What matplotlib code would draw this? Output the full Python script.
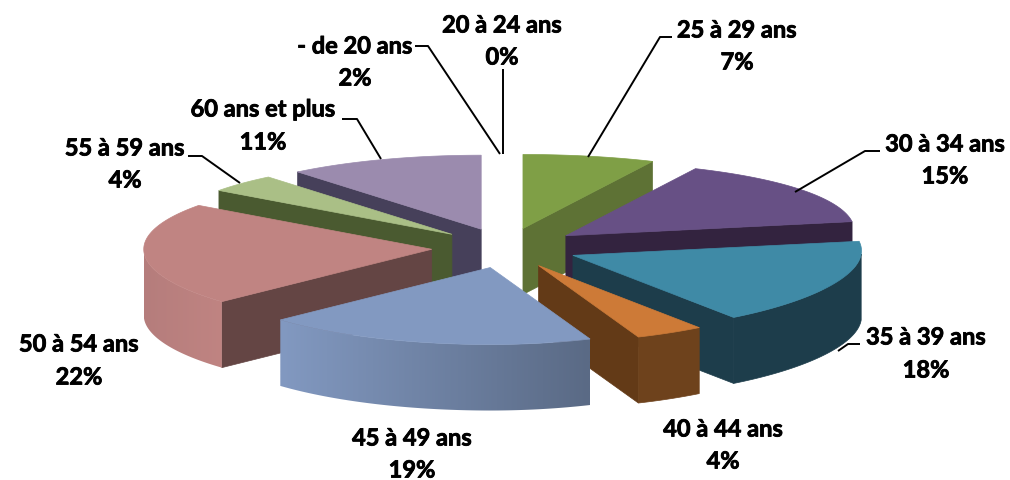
import numpy as np
import matplotlib
matplotlib.use('Agg')
import matplotlib.pyplot as plt
import matplotlib.patheffects as pe
from matplotlib.patches import Polygon
from matplotlib.colors import LinearSegmentedColormap

# tranches d'age, dans le sens horaire a partir du haut
ages = ['25 à 29 ans', '30 à 34 ans', '35 à 39 ans', '40 à 44 ans',
        '45 à 49 ans', '50 à 54 ans', '55 à 59 ans', '60 ans et plus']
values = [7, 15, 18, 4, 19, 22, 4, 11]

# these two show up only as labels, no visible slice
empty_ages = ['- de 20 ans', '20 à 24 ans']
empty_values = [2, 0]

top_colors = ['#7f9f46', '#675085', '#3f8aa6', '#cd7a37',
              '#8299c1', '#c08482', '#aabf86', '#9b8bae']
wall_colors = ['#5e7235', '#33233f', '#1d3d4b', '#633a17',
               '#5a6a85', '#644544', '#4a5a30', '#46405a']
arc_left = ['#5e7235', '#33233f', '#1d3d4b', '#6e421c',
            '#8299c1', '#b57d7c', '#4a5a30', '#46405a']
arc_right = ['#5e7235', '#33233f', '#1d3d4b', '#6e421c',
             '#5a6a85', '#c08482', '#4a5a30', '#46405a']

# pie geometry, in pixels
CX, CY = 506.6, 249
RX = 288
EX, EY = 75, 20
DEPTH = 66

# label: centre x, y of first line, y of second line
label_pos = {
    '20 à 24 ans': (502, 26, 58),
    '- de 20 ans': (355, 47, 79),
    '25 à 29 ans': (737, 31, 63),
    '30 à 34 ans': (945, 145, 177),
    '35 à 39 ans': (926, 338, 371),
    '40 à 44 ans': (723, 430, 462),
    '45 à 49 ans': (412, 439, 471),
    '50 à 54 ans': (79, 345, 378),
    '55 à 59 ans': (125, 149, 181),
    '60 ans et plus': (263, 110, 143),
}
leaders = [
    [(503, 70), (503, 155)],
    [(415, 47), (428, 47), (500, 155)],
    [(672, 38), (660, 38), (588, 158)],
    [(880, 152), (865, 152), (795, 193)],
    [(860, 345), (848, 345), (838, 352)],
    [(188, 157), (202, 157), (240, 184)],
    [(342, 120), (357, 120), (381, 160)],
]


def rim(t):
    # t = clockwise angle from the top, radians
    # right side is skewed a bit, back is flatter than the front (perspective)
    s, c = np.sin(t), np.cos(t)
    x = RX * s + 18 * c * max(0, s)
    y = -(75.5 - 1.5 * c) * c
    return x, y


fig = plt.figure(figsize=(10.10, 4.81), dpi=100)
ax = fig.add_axes([0, 0, 1, 1])

edges = np.cumsum([0] + values) / sum(values) * 2 * np.pi
slices = []
for i in range(len(values)):
    t1, t2 = edges[i], edges[i + 1]
    mid = (t1 + t2) / 2
    ox = CX + EX * np.sin(mid) + 10 * min(0, np.cos(mid)) * max(0, np.sin(mid))
    oy = CY - EY * np.cos(mid)
    slices.append((np.cos(mid), i, t1, t2, ox, oy))

# back slices first
slices.sort(key=lambda s: -s[0])

z = 2
for _, i, t1, t2, ox, oy in slices:
    ts = np.linspace(t1, t2, 120)
    pts = np.array([rim(t) for t in ts]) + [ox, oy]

    # radial walls facing the viewer
    if np.sin(t1) < -1e-6:
        p = pts[0]
        wall = [(ox, oy), p, (p[0], p[1] + DEPTH), (ox, oy + DEPTH)]
        ax.add_patch(Polygon(wall, fc=wall_colors[i], ec=wall_colors[i], lw=0.5, zorder=z))
    if np.sin(t2) > 1e-6:
        p = pts[-1]
        wall = [(ox, oy), p, (p[0], p[1] + DEPTH), (ox, oy + DEPTH)]
        ax.add_patch(Polygon(wall, fc=wall_colors[i], ec=wall_colors[i], lw=0.5, zorder=z))

    # outer wall, front half only, shaded left to right
    front = pts[np.cos(ts) < 0.02]
    if len(front) > 1:
        outline = np.vstack([front, front[::-1] + [0, DEPTH]])
        if arc_left[i] == arc_right[i]:
            ax.add_patch(Polygon(outline, fc=arc_left[i], ec=arc_left[i], lw=0.5, zorder=z))
        else:
            x0, x1 = front[:, 0].min(), front[:, 0].max()
            y0, y1 = front[:, 1].min(), front[:, 1].max() + DEPTH
            cmap = LinearSegmentedColormap.from_list('arc', [arc_left[i], arc_right[i]])
            clip = Polygon(outline, fc='none', ec='none', transform=ax.transData)
            ax.add_patch(clip)
            im = ax.imshow(np.linspace(0, 1, 256).reshape(1, -1), cmap=cmap, aspect='auto',
                           extent=(x0, x1, y1, y0), zorder=z, interpolation='bilinear')
            im.set_clip_path(clip)

    # top face
    ax.add_patch(Polygon([(ox, oy)] + [tuple(p) for p in pts], fc=top_colors[i],
                         ec=top_colors[i], lw=0.5, zorder=z + 1))
    z += 2

for line in leaders:
    xs, ys = zip(*line)
    ax.plot(xs, ys, color='black', lw=1.4, zorder=50, solid_capstyle='butt')

# Lato bold is lighter than the original font, thicken it a little
thick = [pe.withStroke(linewidth=0.6, foreground='black')]
for name, val in zip(ages + empty_ages, values + empty_values):
    x, y1, y2 = label_pos[name]
    ax.text(x, y1, name, ha='center', va='center', family='Lato', weight='bold',
            fontsize=17, color='black', zorder=60, path_effects=thick)
    ax.text(x, y2, f'{val}%', ha='center', va='center', family='Lato', weight='bold',
            fontsize=17, color='black', zorder=60, path_effects=thick)

ax.set_xlim(0, 1010)
ax.set_ylim(481, 0)
ax.axis('off')

fig.savefig('out.png', dpi=100)
